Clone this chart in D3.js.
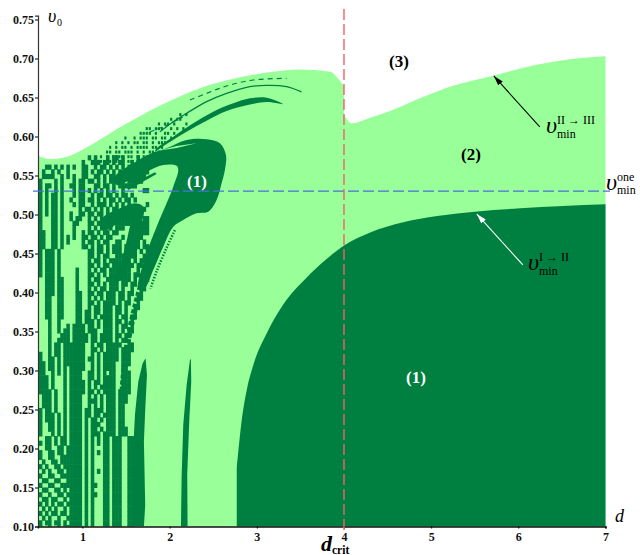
<!DOCTYPE html>
<html>
<head>
<meta charset="utf-8">
<script src="https://cdn.jsdelivr.net/npm/d3@7"></script>
<style>
body { margin: 0; background: #fff; }
text { font-family: "Liberation Serif", serif; }
</style>
</head>
<body>
<div id="chart-area"></div>
<script>
var xTicks = [1, 2, 3, 4, 5, 6, 7];
var yTicks = [0.10, 0.15, 0.20, 0.25, 0.30, 0.35, 0.40, 0.45, 0.50, 0.55, 0.60, 0.65, 0.70, 0.75];
var dCrit = 4;
var vOne = 0.53;

// boundary between (2) and (3), left and right of d crit
var upperLeftD = [0.5, 0.63, 0.82, 1.0, 1.2, 1.4, 1.58, 1.77, 1.97, 2.35, 2.73, 3.12, 3.49, 3.84, 3.95, 4.0];
var upperLeftV = [0.575, 0.571, 0.574, 0.583, 0.596, 0.610, 0.621, 0.633, 0.644, 0.662, 0.674, 0.682, 0.686, 0.683, 0.672, 0.665];
var upperRightD = [4.0, 4.09, 4.30, 4.49, 4.87, 5.25, 5.71, 6.21, 6.59, 7.0];
var upperRightV = [0.628, 0.617, 0.624, 0.631, 0.649, 0.665, 0.678, 0.692, 0.699, 0.703];

// boundary between (1) and (2)
var lowerD = [2.77, 2.83, 2.89, 2.96, 3.12, 3.30, 3.57, 3.78, 4.01, 4.30, 4.68, 5.07, 5.53, 6.02, 7.0];
var lowerV = [0.176, 0.239, 0.278, 0.307, 0.349, 0.384, 0.419, 0.441, 0.461, 0.477, 0.490, 0.498, 0.504, 0.508, 0.513];

// dark islands as [d, v] outlines
var mainWing = [[1.373,.5485],[1.583,.5656],[1.774,.5776],[1.965,.5848],[2.195,.5955],[2.424,.5964],[2.577,.5913],[2.646,.5763],[2.634,.5571],[2.596,.5400],[2.539,.5186],[2.443,.5036],[2.309,.5015],[2.156,.4930],[2.042,.4844],[1.927,.4588],[1.812,.4289],[1.710,.4050],[1.640,.4050],[1.736,.4502],[1.851,.4844],[1.965,.5143],[2.042,.5357],[2.099,.5571],[2.08,.5626],[1.927,.5635],[1.736,.5549],[1.545,.5442],[1.392,.5378]];
var wingStreak = [[1.889,.5819],[2.08,.5879],[2.309,.5913],[2.08,.5853]];
var lowerSliver = [[1.526,.5314],[1.851,.5519],[1.831,.5541],[1.506,.5357]];
var bigArc = [[3.303,.6416],[3.112,.6498],[2.921,.6489],[2.730,.6425],[2.500,.6318],[2.271,.6169],[2.042,.5998],[1.851,.5849],[1.831,.5806],[1.965,.5904],[2.195,.6062],[2.424,.6203],[2.653,.6327],[2.882,.6400],[3.112,.6442]];
var innerWing = [[1.239,.4964],[1.430,.5079],[1.602,.5143],[1.690,.5109],[1.705,.5015],[1.640,.4801],[1.564,.4545],[1.506,.4289],[1.461,.4160],[1.373,.4160],[1.449,.4417],[1.526,.4759],[1.545,.4930],[1.430,.4908],[1.277,.4801],[1.201,.4845]];
var stripeA = [[1.724,.3156],[1.740,.2942],[1.721,.2515],[1.705,.2088],[1.720,.1276],[1.705,.10],[1.575,.10],[1.583,.2002],[1.602,.2429],[1.640,.2857],[1.690,.3092]];
var stripeB = [[2.244,.3147],[2.248,.2857],[2.225,.2344],[2.202,.1660],[2.206,.10],[2.130,.10],[2.137,.1618],[2.156,.2301],[2.195,.2814],[2.233,.3135]];

// thin dark lines
var thinArc = [[3.513,.6571],[3.341,.6639],[3.112,.6656],[2.882,.6630],[2.653,.6553],[2.424,.6447],[2.195,.6297],[2.042,.6190],[1.889,.6062]];
var dashArc = [[2.233,.6468],[2.424,.6553],[2.653,.6647],[2.959,.6724],[3.341,.6746]];
var dashArcLow = [[1.774,.6058],[1.97,.6147],[2.15,.6250]];
var scallop = [[1.707,.4224],[1.602,.3797],[1.520,.3370],[1.474,.2942],[1.449,.2558]];
var wingDots = [[2.06,.4800],[1.96,.4560],[1.85,.4270],[1.78,.4050]];

// fractal part: one string per row of v, one character per step of d
var gridD0 = 0.5, gridDStep = 0.035, gridV0 = 0.576, gridVStep = 0.006;
var gridRows = [
"................#.#...#.##.#....#...",
"..............#..###.##.#.##..#.#.##",
"..##.#.#.#.#..##..#.##.#.#.#.#...###",
".#..#.#..#....##.#.##.#.#.#.##..####",
".####..#.#.#..##..##.#.##.#.#.#####.",
"#....#.#...#.##.##.#.#.###.#.#####..",
"#.##.#.#..##.##...##.##.#.######....",
"#.#..#.#...#.##.#.#.#.#.#..#......##",
"#.#.##.#...#.##..#.##.##.#.##.#.....",
"#.#.##.#..#..##.##.#.#.##.#.##.#....",
"#.#.##.#...#.##..#.###.#.#.#.#.....#",
"#.#.##.#.....#.##.#.#.#.##.#....###.",
"#.#.##.#..#..##.##.##.#.#....#####..",
"#...##.#..#.##..#.#.#.#.#.#####...##",
"#...##.#...##...##.##.#..#####...###",
"#...##.#...#....#.#.##.#.###....####",
"##..##.#...#..#.##.#.##.##.....#####",
"##..##.#.#.#..##.##.#.##...#..####..",
"##..##.#.#....#.##.#.##..##..####.#.",
"##..##.#......##.#.##.#.###.#####.##",
"#.###.#.........##.##.#.###.####.#.#",
"#.###.#.........##.#.##..###.###..#.",
"#.###.#.........#.##.#.####.##.#.##.",
"#.###.#.........##.#.##.###.###.##..",
"#.###.#.....#...#.#.##.####.##..#..#",
"#.###.#.....#...##.#.#.####.##.##..#",
"..###.##....#...#.##..####.###.#..##",
"..###.##....#...##.#.#.###.##.##..#.",
"..###.##....#...#.#.##.###.#..#..##.",
"..###.##....##..##.##.###.##.##..#..",
"..##..##....##..#.#.#.###.##.#..##..",
"..##..##....##..##.#.####.#.##..#...",
"..##..##....##..#.##.###.##.#..##...",
"..##..##....##.##.##.###.##.#..#....",
"..##..##....##.##.#.####.#.##.##....",
"...#..#.....##.###.#.###.##.#.#.....",
"...#..#..#.####.##.#.###.#.##.#.....",
"...#..#.##.####.###..###.#.#.##.....",
"...#...###.#####.##.####.##.##......",
"...#..####.#####.##.####.#.##.......",
"...#.##.#######..#.##.#####..##.....",
"...#.##.#######..##.#.####.####.....",
"#..#.##.#######..#.#.#####.###......",
"#..##.#.#######.##.#.#####.###......",
"##.##.#.#######..#.#.####..###......",
"##.##.#.#.#####..#.#.####..##.......",
"##..#.#.#.####..##.#.#.##..###......",
"###.#...#.####..##.#.####..###......",
"###.#...#.#####.#.##.####..###......",
"###.#...#.#####.#.#.#####..###......",
"####.#..#.#####.##.#.####.####......",
".###.#..#.####..#.#.#.###.###.......",
".###.#..#.####..###.#.###.###.......",
".###.#..#.####..#.#.#.###.##........",
"#.##.#..#.####.##.###.###.##........",
"#.###.#.#.####.##.##.####.##........",
"#.###.#.#.####.#.##.#.###.##........",
"#..##.#.#.####.#.###..###.##........",
"#..##.#.#.####.#.##.#.###.###.......",
"#...#.#.#.####.#.###.####.###.......",
"..##.#.##.####.#.#.#.##.###..##.....",
"#.##.#.##.####.#.#.#.##.###..##.....",
"..##..##.#####.#.#...##.###..##.....",
"#..##.##.#####.#.#.#.##.###..##.....",
"#..##..#######.#.#...##.###..##.....",
".#..##.#######.#.#...##.###..##.....",
"#.#..##.######.#.#...##.###..##.....",
".#.#..##.#####.#.#.#.##.###..##.....",
"#..##..#######.#.#...##.###..##.....",
".##..##..#####.#.#...##.###..##.....",
"#..##..#######.#.##..##.###..##.....",
".##..##.#.####.#.#...##.###..##.....",
"#..#..##.#####.#.##..##.###..##.....",
".##.##..#.####.#.#...##.###..##.....",
"#.#.#.##.#####.#.#...##.###..##.....",
".#.#.#..#.####.#.#...##.###..##.....",
"#.#.##.##.####.#.#...##.###..##.....",
".#.#..#..#####.#.#...##.###..##.....",
"#.##.##.#.####.#.#...##.###..##.....",
"#..#..#.######.#.#...##.###..##....."
];

// speckled band over the wing
var speckD0 = 1.2, speckV0 = 0.630;
var speckRows = [
"..........................#.#",
".......................#.##..",
"...................#.##.#...#",
"...............##.###..#.#.#.",
".............####.#..##.#....",
"........#..#.###.##.##.#.....",
".....#.#.#.##.##.#.###.......",
"...#.#.##.#.####.##.#........",
"..##.##.###.#.#.##.#.........",
"#.#.####.##.#.##......#......",
"#.##.###.##.#.#.....###......"
];

var arrowII = [[6.246, 0.6122], [5.719, 0.6776]];
var arrowI = [[6.052, 0.4353], [5.524, 0.5006]];

var dark = "#008040", light = "#99ff99";

var width = 640, height = 555;

var svg = d3.select("#chart-area").append("svg")
	.attr("width", width)
	.attr("height", height)
	.style("display", "block");

var x = d3.scaleLinear().domain([0.49, 7]).range([38, 605.5]);
var y = d3.scaleLinear().domain([0.10, 0.755]).range([526.5, 15.6]);

var defs = svg.append("defs");

var marker = function(id, color) {
	defs.append("marker")
		.attr("id", id)
		.attr("viewBox", "0 0 10 6")
		.attr("refX", 10).attr("refY", 3)
		.attr("markerWidth", 10).attr("markerHeight", 6)
		.attr("markerUnits", "userSpaceOnUse")
		.attr("orient", "auto")
		.append("path")
		.attr("d", "M0,0L10,3L0,6Z")
		.attr("fill", color);
};
marker("headBlack", "#000");
marker("headWhite", "#fff");

// light region, two pieces because of the jump at d crit
var area = d3.area()
	.x((d) => x(d[0]))
	.y0(y(0.10))
	.y1((d) => y(d[1]))
	.curve(d3.curveMonotoneX);

var upperLeft = upperLeftD.map((d, i) => [d, upperLeftV[i]]);
var upperRight = upperRightD.map((d, i) => [d, upperRightV[i]]);
var lower = lowerD.map((d, i) => [d, lowerV[i]]);

var clip = defs.append("clipPath").attr("id", "inside");
clip.append("path").attr("d", area(upperLeft));
clip.append("path").attr("d", area(upperRight));

svg.append("path").attr("d", area(upperLeft)).attr("fill", light);
svg.append("path").attr("d", area(upperRight)).attr("fill", light);
svg.append("path").attr("d", area(lower)).attr("fill", dark);

var g = svg.append("g").attr("clip-path", "url(#inside)");

// cells of the fractal part
var toCells = function(rows, d0, v0) {
	var cells = [];
	rows.forEach((row, r) => {
		row.split("").forEach((c, j) => {
			if (c === "#") cells.push({d: d0 + j * gridDStep, v: v0 - r * gridVStep});
		});
	});
	return cells;
};

g.selectAll("rect.cell")
	.data(toCells(gridRows, gridD0, gridV0))
	.enter().append("rect")
	.attr("class", "cell")
	.attr("x", (d) => x(d.d))
	.attr("y", (d) => y(d.v))
	.attr("width", x(gridDStep) - x(0) + 0.5)
	.attr("height", y(0) - y(gridVStep) + 0.5)
	.attr("fill", dark);

// specks are smaller than their grid step
g.selectAll("rect.speck")
	.data(toCells(speckRows, speckD0, speckV0))
	.enter().append("rect")
	.attr("class", "speck")
	.attr("x", (d) => x(d.d))
	.attr("y", (d) => y(d.v))
	.attr("width", 2.2)
	.attr("height", 3)
	.attr("fill", dark);

var blob = d3.line()
	.x((d) => x(d[0]))
	.y((d) => y(d[1]))
	.curve(d3.curveCatmullRomClosed.alpha(0.5));
var sharp = d3.line()
	.x((d) => x(d[0]))
	.y((d) => y(d[1]))
	.curve(d3.curveLinearClosed);
var open = d3.line()
	.x((d) => x(d[0]))
	.y((d) => y(d[1]))
	.curve(d3.curveCatmullRom.alpha(0.5));

g.append("path").attr("d", blob(mainWing)).attr("fill", dark);
g.append("path").attr("d", sharp(wingStreak)).attr("fill", light);
g.append("path").attr("d", sharp(lowerSliver)).attr("fill", dark);
g.append("path").attr("d", blob(bigArc)).attr("fill", dark);
g.append("path").attr("d", blob(innerWing)).attr("fill", dark);
g.append("path").attr("d", sharp(stripeA)).attr("fill", dark);
g.append("path").attr("d", sharp(stripeB)).attr("fill", dark);

g.append("path").attr("d", open(thinArc))
	.attr("fill", "none").attr("stroke", dark).attr("stroke-width", 1.3);
g.append("path").attr("d", open(dashArc))
	.attr("fill", "none").attr("stroke", dark).attr("stroke-width", 1.2).attr("stroke-dasharray", "5,4");
g.append("path").attr("d", open(dashArcLow))
	.attr("fill", "none").attr("stroke", dark).attr("stroke-width", 1.2).attr("stroke-dasharray", "5,3");
g.append("path").attr("d", open(scallop))
	.attr("fill", "none").attr("stroke", dark).attr("stroke-width", 6).attr("stroke-dasharray", "4,2");
g.append("path").attr("d", open(wingDots))
	.attr("fill", "none").attr("stroke", dark).attr("stroke-width", 2.5).attr("stroke-dasharray", "1.5,1.5");

// axes
var leftAxis = d3.axisLeft(y)
	.tickValues(yTicks)
	.tickFormat(d3.format(".2f"))
	.tickSize(3)
	.tickPadding(1);
var yAxis = svg.append("g")
	.attr("transform", "translate(38, 0)")
	.call(leftAxis);
yAxis.selectAll("text")
	.attr("font-size", "12px").attr("font-weight", "bold").attr("fill", "#111")
	.style("font-family", "'Liberation Serif', serif");
yAxis.select(".domain").attr("stroke", "#333").attr("stroke-width", 1.2);

var bottomAxis = d3.axisBottom(x)
	.tickValues(xTicks)
	.tickFormat(d3.format("d"))
	.tickSize(2)
	.tickPadding(4);
var xAxis = svg.append("g")
	.attr("transform", "translate(0, " + y(0.10) + ")")
	.call(bottomAxis);
xAxis.selectAll("text")
	.attr("font-size", "12px").attr("font-weight", "bold").attr("fill", "#111")
	.style("font-family", "'Liberation Serif', serif");
xAxis.select(".domain").attr("stroke", "#111").attr("stroke-width", 1.4);

// reference lines
svg.append("line")
	.attr("x1", 33).attr("x2", 610)
	.attr("y1", y(vOne)).attr("y2", y(vOne))
	.attr("stroke", "#4a6fe0").attr("stroke-width", 1.4)
	.attr("stroke-dasharray", "11,4");
svg.append("line")
	.attr("x1", x(dCrit)).attr("x2", x(dCrit))
	.attr("y1", 9).attr("y2", 533)
	.attr("stroke", "#f2606a").attr("stroke-width", 1.4)
	.attr("stroke-dasharray", "11,4");

// arrows
svg.append("line")
	.attr("x1", x(arrowII[0][0])).attr("y1", y(arrowII[0][1]))
	.attr("x2", x(arrowII[1][0])).attr("y2", y(arrowII[1][1]))
	.attr("stroke", "#000").attr("stroke-width", 1.1)
	.attr("marker-end", "url(#headBlack)");
svg.append("line")
	.attr("x1", x(arrowI[0][0])).attr("y1", y(arrowI[0][1]))
	.attr("x2", x(arrowI[1][0])).attr("y2", y(arrowI[1][1]))
	.attr("stroke", "#fff").attr("stroke-width", 1.1)
	.attr("marker-end", "url(#headWhite)");

// labels
var label = function(px, py, str, size, opts) {
	opts = opts || {};
	return svg.append("text")
		.attr("x", px).attr("y", py)
		.attr("font-size", size + "px")
		.attr("font-weight", opts.weight || "normal")
		.attr("font-style", opts.style || "normal")
		.attr("text-anchor", opts.anchor || "start")
		.attr("fill", opts.fill || "#000")
		.text(str);
};

label(197, 187, "(1)", 17, {weight: "bold", anchor: "middle", fill: "#fff"});
label(416, 383, "(1)", 17, {weight: "bold", anchor: "middle", fill: "#fff"});
label(399, 67, "(3)", 17, {weight: "bold", anchor: "middle"});
label(471, 160, "(2)", 17, {weight: "bold", anchor: "middle"});

label(48, 22, "\u03c5", 18, {style: "italic"});
label(57, 26, "0", 10);
label(615, 522, "d", 18, {style: "italic"});

label(321, 551, "d", 22, {style: "italic", weight: "bold"});
label(332, 554, "crit", 11.5, {weight: "bold"});

label(546, 133, "\u03c5", 24, {style: "italic"});
label(557, 124, "II \u2192 III", 12);
label(557, 138, "min", 12);

label(528, 270, "\u03c5", 24, {style: "italic"});
label(539, 261, "I \u2192 II", 12);
label(539, 275, "min", 12);

label(606, 190, "\u03c5", 24, {style: "italic"});
label(617, 181, "one", 12);
label(617, 194, "min", 12);
</script>
</body>
</html>
